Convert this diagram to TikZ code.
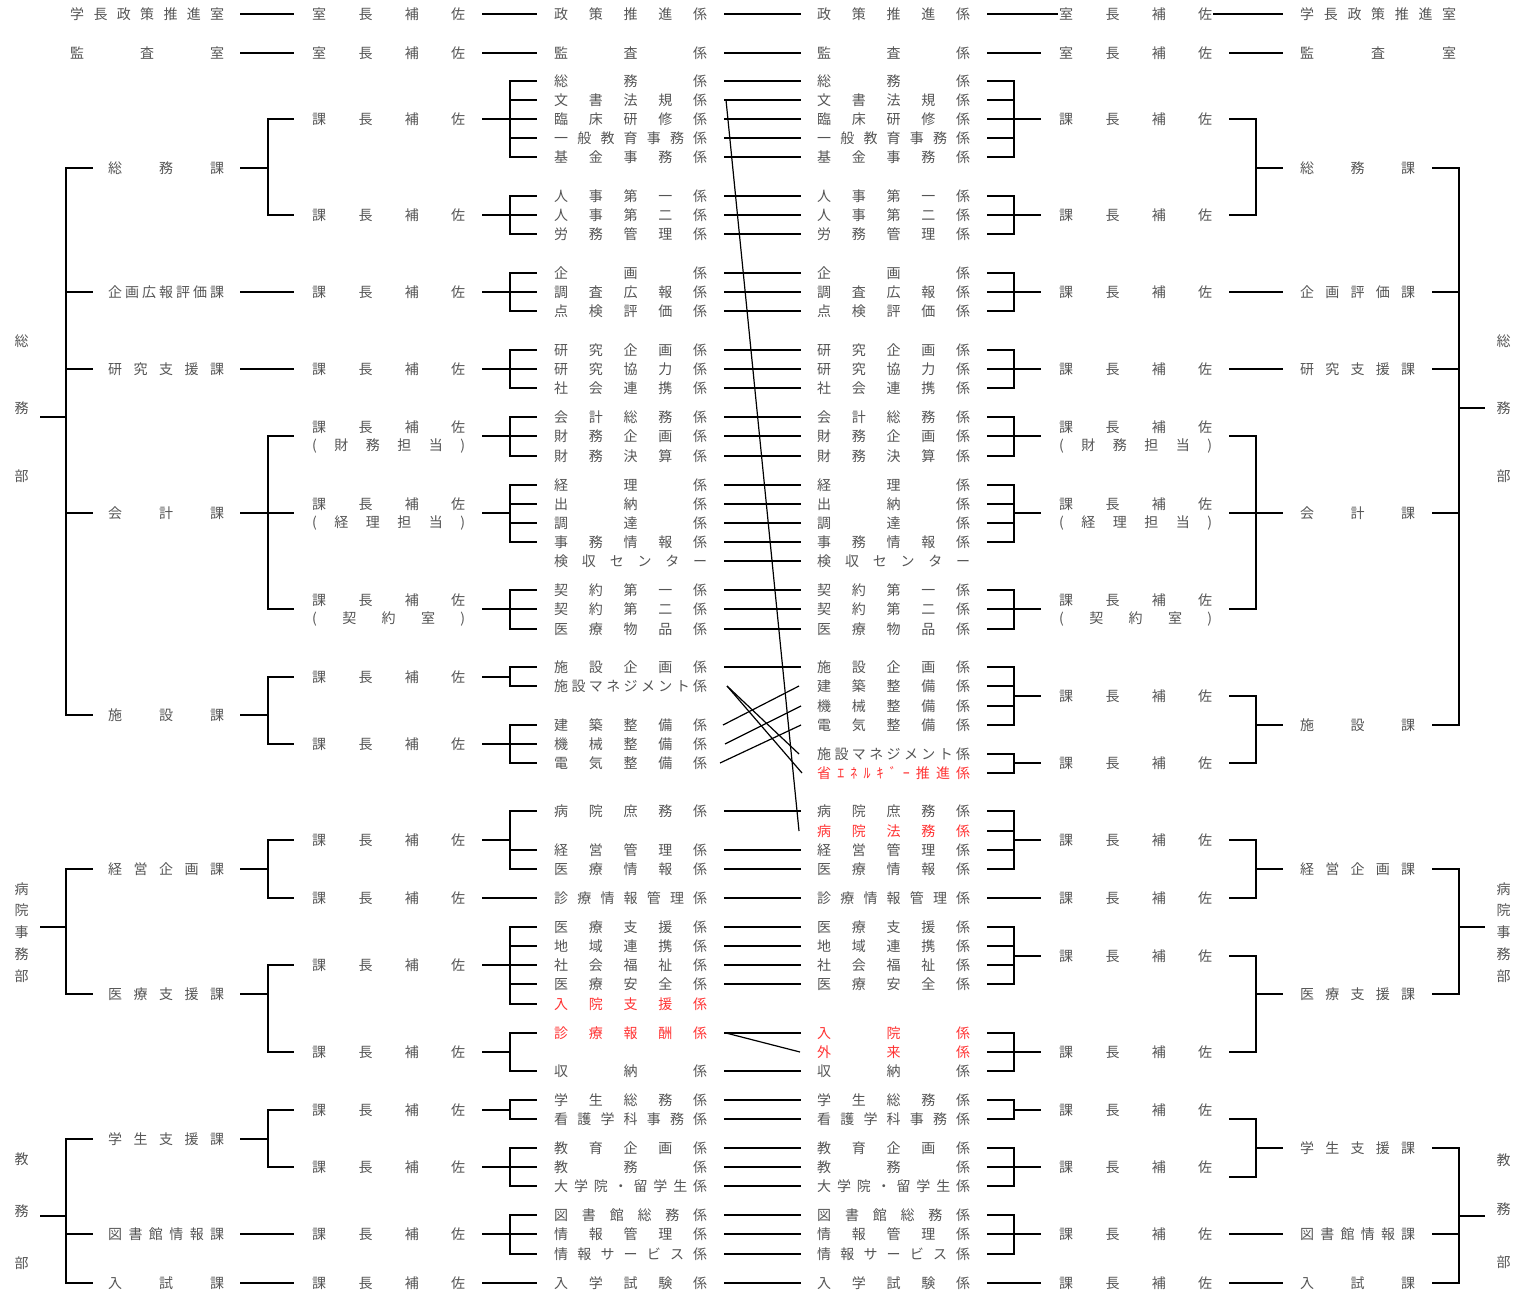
\documentclass[tikz,border=0pt]{standalone}
\usepackage{fontspec}
\setmainfont{Noto Sans CJK JP}
\usetikzlibrary{calc}
\definecolor{txtgray}{RGB}{85,85,85}
\definecolor{jred}{RGB}{255,51,51}
\makeatletter
\newcommand\spreadtext[1]{\let\sp@first\relax\@tfor\sp@c:=#1\do{\ifx\sp@first\relax\let\sp@first\empty\else\hfill\fi\sp@c}}
\makeatother
\newcommand\tx[6][]{\node[lbl,#1] (#2) at (#3,#4) {\hbox to #5pt{\spreadtext{#6}}};}
\newcommand\cA[4][]{\tx[#1]{#2}{108}{#3}{116}{#4}}
\newcommand\cB[4][]{\tx[#1]{#2}{312}{#3}{153}{#4}}
\newcommand\cC[4][]{\tx[#1]{#2}{554}{#3}{153}{#4}}
\newcommand\cD[4][]{\tx[#1]{#2}{817}{#3}{153}{#4}}
\newcommand\cE[4][]{\tx[#1]{#2}{1059}{#3}{153}{#4}}
\newcommand\cF[4][]{\tx[#1]{#2}{1300}{#3}{115}{#4}}
% bracket: #1 bracket x, #2 child-side x, #3 parent-side x, #4 parent, #5 first, #6 last, #7 all children
\newcommand\brk[7]{%
  \draw[conn] (#1,0 |- #4) -- (#3,0 |- #4);
  \draw[conn] (#1,0 |- #5) -- (#1,0 |- #6);
  \foreach \kid in {#7} {\draw[conn] (#1,0 |- \kid) -- (#2,0 |- \kid);}%
}
\newcommand\lnk[3]{\draw[conn] (#1,0 |- #3) -- (#2,0 |- #3);}
\begin{document}
\begin{tikzpicture}[x=1pt,y=-1pt,
  lbl/.style={anchor=west,inner sep=0pt,text=txtgray,font=\fontsize{14}{16}\selectfont},
  hl/.style={text=jred},
  conn/.style={line width=2.7pt,line cap=rect},
  xline/.style={line width=1.2pt}]
\useasboundingbox (0,0) rectangle (1517,1293);

% ---------- column A ----------
\tx{a1}{70}{14}{154}{学長政策推進室}
\tx{a2}{70}{53}{154}{監査室}
\cA{a3}{168}{総務課}
\cA{a4}{292}{企画広報評価課}
\cA{a5}{369}{研究支援課}
\cA{a6}{513}{会計課}
\cA{a7}{715}{施設課}
\cA{a8}{869}{経営企画課}
\cA{a9}{994}{医療支援課}
\cA{a10}{1139}{学生支援課}
\cA{a11}{1234}{図書館情報課}
\cA{a12}{1283}{入試課}

% ---------- column F ----------
\tx{f1}{1300}{14}{156}{学長政策推進室}
\tx{f2}{1300}{53}{156}{監査室}
\cF{f3}{168}{総務課}
\cF{f4}{292}{企画評価課}
\cF{f5}{369}{研究支援課}
\cF{f6}{513}{会計課}
\cF{f7}{725}{施設課}
\cF{f8}{869}{経営企画課}
\cF{f9}{994}{医療支援課}
\cF{f10}{1148}{学生支援課}
\cF{f11}{1234}{図書館情報課}
\cF{f12}{1283}{入試課}

% ---------- column B ----------
\cB{b1}{14}{室長補佐}
\cB{b2}{53}{室長補佐}
\cB{b3}{119}{課長補佐}
\cB{b4}{215}{課長補佐}
\cB{b5}{292}{課長補佐}
\cB{b6}{369}{課長補佐}
\cB{b7u}{427}{課長補佐}
\cB{b7l}{446}{(財務担当)}
\cB{b8u}{504}{課長補佐}
\cB{b8l}{523}{(経理担当)}
\cB{b9u}{600}{課長補佐}
\cB{b9l}{619}{(契約室)}
\coordinate (b7) at (312,436);
\coordinate (b8) at (312,513);
\coordinate (b9) at (312,609);
\cB{b10}{677}{課長補佐}
\cB{b11}{744}{課長補佐}
\cB{b12}{840}{課長補佐}
\cB{b13}{898}{課長補佐}
\cB{b14}{965}{課長補佐}
\cB{b15}{1052}{課長補佐}
\cB{b16}{1110}{課長補佐}
\cB{b17}{1167}{課長補佐}
\cB{b18}{1234}{課長補佐}
\cB{b19}{1283}{課長補佐}

% ---------- column E ----------
\cE{e1}{14}{室長補佐}
\cE{e2}{53}{室長補佐}
\cE{e3}{119}{課長補佐}
\cE{e4}{215}{課長補佐}
\cE{e5}{292}{課長補佐}
\cE{e6}{369}{課長補佐}
\cE{e7u}{427}{課長補佐}
\cE{e7l}{446}{(財務担当)}
\cE{e8u}{504}{課長補佐}
\cE{e8l}{523}{(経理担当)}
\cE{e9u}{600}{課長補佐}
\cE{e9l}{619}{(契約室)}
\coordinate (e7) at (1212,436);
\coordinate (e8) at (1212,513);
\coordinate (e9) at (1212,609);
\cE{e10}{696}{課長補佐}
\cE{e11}{763}{課長補佐}
\cE{e12}{840}{課長補佐}
\cE{e13}{898}{課長補佐}
\cE{e14}{956}{課長補佐}
\cE{e15}{1052}{課長補佐}
\cE{e16}{1110}{課長補佐}
\cE{e17}{1167}{課長補佐}
\cE{e18}{1234}{課長補佐}
\cE{e19}{1283}{課長補佐}
\coordinate (e16x) at (1212,1119);
\coordinate (e17x) at (1212,1177);

% ---------- column C ----------
\cC{c1}{14}{政策推進係}
\cC{c2}{53}{監査係}
\cC{c3}{81}{総務係}
\cC{c4}{100}{文書法規係}
\cC{c5}{119}{臨床研修係}
\cC{c6}{138}{一般教育事務係}
\cC{c7}{157}{基金事務係}
\cC{c8}{196}{人事第一係}
\cC{c9}{215}{人事第二係}
\cC{c10}{234}{労務管理係}
\cC{c11}{273}{企画係}
\cC{c12}{292}{調査広報係}
\cC{c13}{311}{点検評価係}
\cC{c14}{350}{研究企画係}
\cC{c15}{369}{研究協力係}
\cC{c16}{388}{社会連携係}
\cC{c17}{417}{会計総務係}
\cC{c18}{436}{財務企画係}
\cC{c19}{456}{財務決算係}
\cC{c20}{485}{経理係}
\cC{c21}{504}{出納係}
\cC{c22}{523}{調達係}
\cC{c23}{542}{事務情報係}
\cC{c24}{561}{検収センター}
\cC{c25}{590}{契約第一係}
\cC{c26}{609}{契約第二係}
\cC{c27}{629}{医療物品係}
\cC{c28}{667}{施設企画係}
\cC{c29}{686}{施設マネジメント係}
\cC{c30}{725}{建築整備係}
\cC{c31}{744}{機械整備係}
\cC{c32}{763}{電気整備係}
\cC{c33}{811}{病院庶務係}
\cC{c34}{850}{経営管理係}
\cC{c35}{869}{医療情報係}
\cC{c36}{898}{診療情報管理係}
\cC{c37}{927}{医療支援係}
\cC{c38}{946}{地域連携係}
\cC{c39}{965}{社会福祉係}
\cC{c40}{984}{医療安全係}
\cC[hl]{c41}{1004}{入院支援係}
\cC[hl]{c42}{1033}{診療報酬係}
\cC{c43}{1071}{収納係}
\cC{c44}{1100}{学生総務係}
\cC{c45}{1119}{看護学科事務係}
\cC{c46}{1148}{教育企画係}
\cC{c47}{1167}{教務係}
\cC{c48}{1186}{大学院・留学生係}
\cC{c49}{1215}{図書館総務係}
\cC{c50}{1234}{情報管理係}
\cC{c51}{1254}{情報サービス係}
\cC{c52}{1283}{入学試験係}

% ---------- column D ----------
\cD{d1}{14}{政策推進係}
\cD{d2}{53}{監査係}
\cD{d3}{81}{総務係}
\cD{d4}{100}{文書法規係}
\cD{d5}{119}{臨床研修係}
\cD{d6}{138}{一般教育事務係}
\cD{d7}{157}{基金事務係}
\cD{d8}{196}{人事第一係}
\cD{d9}{215}{人事第二係}
\cD{d10}{234}{労務管理係}
\cD{d11}{273}{企画係}
\cD{d12}{292}{調査広報係}
\cD{d13}{311}{点検評価係}
\cD{d14}{350}{研究企画係}
\cD{d15}{369}{研究協力係}
\cD{d16}{388}{社会連携係}
\cD{d17}{417}{会計総務係}
\cD{d18}{436}{財務企画係}
\cD{d19}{456}{財務決算係}
\cD{d20}{485}{経理係}
\cD{d21}{504}{出納係}
\cD{d22}{523}{調達係}
\cD{d23}{542}{事務情報係}
\cD{d24}{561}{検収センター}
\cD{d25}{590}{契約第一係}
\cD{d26}{609}{契約第二係}
\cD{d27}{629}{医療物品係}
\cD{d28}{667}{施設企画係}
\cD{d29}{686}{建築整備係}
\cD{d30}{706}{機械整備係}
\cD{d31}{725}{電気整備係}
\cD{d32}{754}{施設マネジメント係}
\cD[hl]{d33}{773}{省ｴﾈﾙｷﾞｰ推進係}
\cD{d34}{811}{病院庶務係}
\cD[hl]{d35}{831}{病院法務係}
\cD{d36}{850}{経営管理係}
\cD{d37}{869}{医療情報係}
\cD{d38}{898}{診療情報管理係}
\cD{d39}{927}{医療支援係}
\cD{d40}{946}{地域連携係}
\cD{d41}{965}{社会福祉係}
\cD{d42}{984}{医療安全係}
\cD[hl]{d43}{1033}{入院係}
\cD[hl]{d44}{1052}{外来係}
\cD{d45}{1071}{収納係}
\cD{d46}{1100}{学生総務係}
\cD{d47}{1119}{看護学科事務係}
\cD{d48}{1148}{教育企画係}
\cD{d49}{1167}{教務係}
\cD{d50}{1186}{大学院・留学生係}
\cD{d51}{1215}{図書館総務係}
\cD{d52}{1234}{情報管理係}
\cD{d53}{1254}{情報サービス係}
\cD{d54}{1283}{入学試験係}

% ---------- 部 labels ----------
\node[lbl,anchor=center] (L1a) at (21.5,341) {総};
\node[lbl,anchor=center] (L1b) at (21.5,408) {務};
\node[lbl,anchor=center] (L1c) at (21.5,476) {部};
\node[lbl,anchor=center] (L2a) at (21.5,889) {病};
\node[lbl,anchor=center] (L2b) at (21.5,910) {院};
\node[lbl,anchor=center] (L2c) at (21.5,932) {事};
\node[lbl,anchor=center] (L2d) at (21.5,954) {務};
\node[lbl,anchor=center] (L2e) at (21.5,976) {部};
\node[lbl,anchor=center] (L3a) at (21.5,1159) {教};
\node[lbl,anchor=center] (L3b) at (21.5,1211) {務};
\node[lbl,anchor=center] (L3c) at (21.5,1263) {部};
\node[lbl,anchor=center] (R1a) at (1503.5,341) {総};
\node[lbl,anchor=center] (R1b) at (1503.5,408) {務};
\node[lbl,anchor=center] (R1c) at (1503.5,476) {部};
\node[lbl,anchor=center] (R2a) at (1503.5,889) {病};
\node[lbl,anchor=center] (R2b) at (1503.5,910) {院};
\node[lbl,anchor=center] (R2c) at (1503.5,932) {事};
\node[lbl,anchor=center] (R2d) at (1503.5,954) {務};
\node[lbl,anchor=center] (R2e) at (1503.5,976) {部};
\node[lbl,anchor=center] (R3a) at (1503.5,1160) {教};
\node[lbl,anchor=center] (R3b) at (1503.5,1209) {務};
\node[lbl,anchor=center] (R3c) at (1503.5,1262) {部};
\coordinate (L1) at (41,417);
\coordinate (L2) at (41,927);
\coordinate (L3) at (41,1216);
\coordinate (R1) at (1484,408);
\coordinate (R2) at (1484,927);
\coordinate (R3) at (1484,1216);

% ---------- 部 -> 課 ----------
\brk{66}{92}{41}{L1}{a3}{a7}{a3,a4,a5,a6,a7}
\brk{66}{92}{41}{L2}{a8}{a9}{a8,a9}
\brk{66}{92}{41}{L3}{a10}{a12}{a10,a11,a12}
\brk{1459}{1433}{1484}{R1}{f3}{f7}{f3,f4,f5,f6,f7}
\brk{1459}{1433}{1484}{R2}{f8}{f9}{f8,f9}
\brk{1459}{1433}{1484}{R3}{f10}{f12}{f10,f11,f12}

% ---------- A -> B ----------
\lnk{241}{293}{a1}
\lnk{241}{293}{a2}
\brk{268}{293}{241}{a3}{b3}{b4}{b3,b4}
\lnk{241}{293}{a4}
\lnk{241}{293}{a5}
\brk{268}{293}{241}{a6}{b7}{b9}{b7,b8,b9}
\brk{268}{293}{241}{a7}{b10}{b11}{b10,b11}
\brk{268}{293}{241}{a8}{b12}{b13}{b12,b13}
\brk{268}{293}{241}{a9}{b14}{b15}{b14,b15}
\brk{268}{293}{241}{a10}{b16}{b17}{b16,b17}
\lnk{241}{293}{a11}
\lnk{241}{293}{a12}

% ---------- B -> C ----------
\lnk{483}{536}{b1}
\lnk{483}{536}{b2}
\brk{510}{536}{483}{b3}{c3}{c7}{c3,c4,c5,c6,c7}
\brk{510}{536}{483}{b4}{c8}{c10}{c8,c9,c10}
\brk{510}{536}{483}{b5}{c11}{c13}{c11,c12,c13}
\brk{510}{536}{483}{b6}{c14}{c16}{c14,c15,c16}
\brk{510}{536}{483}{b7}{c17}{c19}{c17,c18,c19}
\brk{510}{536}{483}{b8}{c20}{c23}{c20,c21,c22,c23}
\brk{510}{536}{483}{b9}{c25}{c27}{c25,c26,c27}
\brk{510}{536}{483}{b10}{c28}{c29}{c28,c29}
\brk{510}{536}{483}{b11}{c30}{c32}{c30,c31,c32}
\brk{510}{536}{483}{b12}{c33}{c35}{c33,c34,c35}
\lnk{483}{536}{b13}
\brk{510}{536}{483}{b14}{c37}{c41}{c37,c38,c39,c40,c41}
\brk{510}{536}{483}{b15}{c42}{c43}{c42,c43}
\brk{510}{536}{483}{b16}{c44}{c45}{c44,c45}
\brk{510}{536}{483}{b17}{c46}{c48}{c46,c47,c48}
\brk{510}{536}{483}{b18}{c49}{c51}{c49,c50,c51}
\lnk{483}{536}{b19}

% ---------- C -> D ----------
\foreach \i in {1,...,28} {\draw[conn] (725,0 |- c\i) -- (800,0 |- d\i);}
\foreach \i/\j in {33/34,34/36,35/37,36/38,37/39,38/40,39/41,40/42,42/43,43/45,44/46,45/47,46/48,47/49,48/50,49/51,50/52,51/53,52/54}
  {\draw[conn] (725,0 |- c\i) -- (800,0 |- d\j);}
\draw[xline] (726,0 |- c4) -- (799,0 |- d35);
\draw[xline] (727,0 |- c29) -- (799,0 |- d32);
\draw[xline] (727,0 |- c29) -- (802,0 |- d33);
\draw[xline] (723,0 |- c30) -- (799,0 |- d29);
\draw[xline] (725,0 |- c31) -- (801,0 |- d30);
\draw[xline] (720,0 |- c32) -- (801,0 |- d31);
\draw[xline] (726,0 |- c42) -- (800,0 |- d44);

% ---------- D -> E ----------
\draw[conn] (988,0 |- d1) -- (1057,0 |- e1);
\lnk{988}{1040}{d2}
\brk{1014}{988}{1040}{e3}{d3}{d7}{d3,d4,d5,d6,d7}
\brk{1014}{988}{1040}{e4}{d8}{d10}{d8,d9,d10}
\brk{1014}{988}{1040}{e5}{d11}{d13}{d11,d12,d13}
\brk{1014}{988}{1040}{e6}{d14}{d16}{d14,d15,d16}
\brk{1014}{988}{1040}{e7}{d17}{d19}{d17,d18,d19}
\brk{1014}{988}{1040}{e8}{d20}{d23}{d20,d21,d22,d23}
\brk{1014}{988}{1040}{e9}{d25}{d27}{d25,d26,d27}
\brk{1014}{988}{1040}{e10}{d28}{d31}{d28,d29,d30,d31}
\brk{1014}{988}{1040}{e11}{d32}{d33}{d32,d33}
\brk{1014}{988}{1040}{e12}{d34}{d37}{d34,d35,d36,d37}
\lnk{988}{1040}{d38}
\brk{1014}{988}{1040}{e14}{d39}{d42}{d39,d40,d41,d42}
\brk{1014}{988}{1040}{e15}{d43}{d45}{d43,d44,d45}
\brk{1014}{988}{1040}{e16}{d46}{d47}{d46,d47}
\brk{1014}{988}{1040}{e17}{d48}{d50}{d48,d49,d50}
\brk{1014}{988}{1040}{e18}{d51}{d53}{d51,d52,d53}
\lnk{988}{1040}{d54}

% ---------- E -> F ----------
\draw[conn] (1214,0 |- e1) -- (1282,0 |- f1);
\lnk{1230}{1282}{e2}
\brk{1256}{1230}{1282}{f3}{e3}{e4}{e3,e4}
\lnk{1230}{1282}{e5}
\lnk{1230}{1282}{e6}
\brk{1256}{1230}{1282}{f6}{e7}{e9}{e7,e8,e9}
\brk{1256}{1230}{1282}{f7}{e10}{e11}{e10,e11}
\brk{1256}{1230}{1282}{f8}{e12}{e13}{e12,e13}
\brk{1256}{1230}{1282}{f9}{e14}{e15}{e14,e15}
\brk{1256}{1230}{1282}{f10}{e16x}{e17x}{e16x,e17x}
\lnk{1230}{1282}{e18}
\lnk{1230}{1282}{e19}
\end{tikzpicture}
\end{document}
